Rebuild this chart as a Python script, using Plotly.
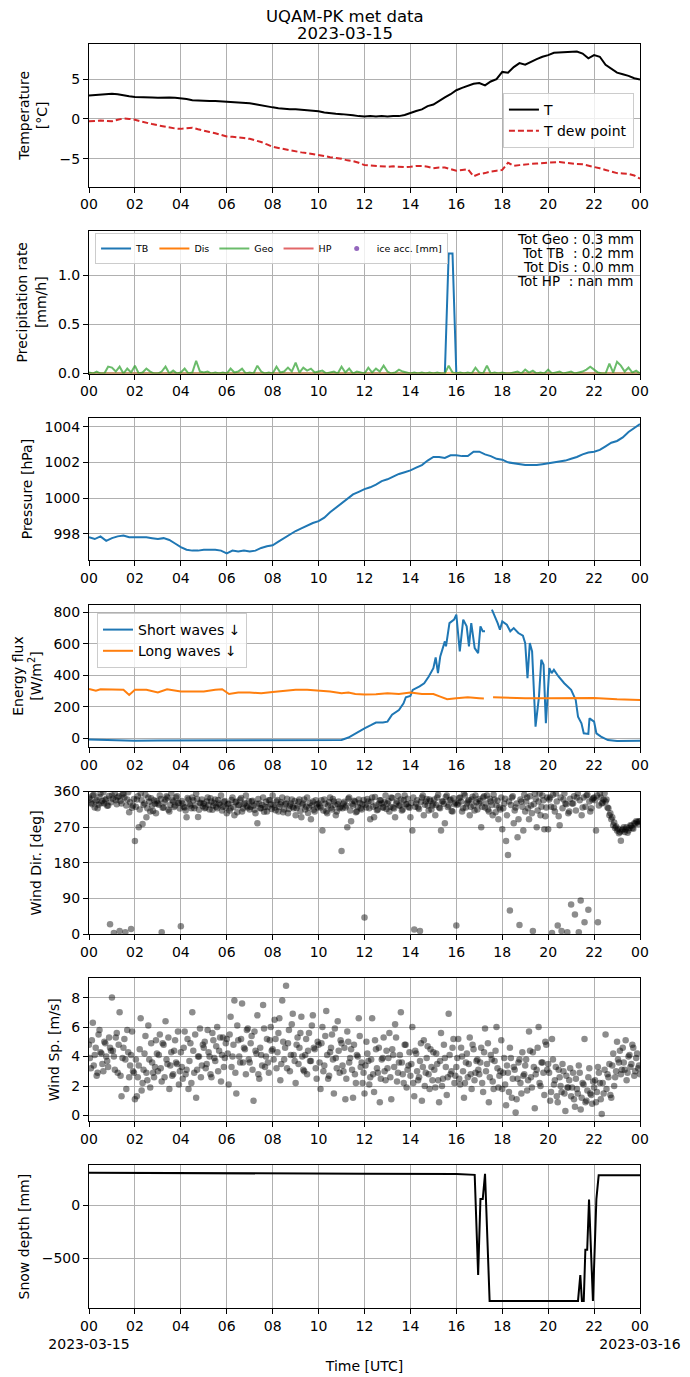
import numpy as np
import plotly.graph_objects as go
from plotly.subplots import make_subplots

# ---- data (hours UTC, 2023-03-15) ----
t15 = np.linspace(0, 24, 97)     # 15 min
t10 = np.linspace(0, 24, 145)    # 10 min
t5 = np.linspace(0, 24, 289)     # 5 min
t5b = np.linspace(2.5 / 60, 24 - 2.5 / 60, 288)   # 5 min, offset by 2.5 min

temp = [2.95, 3.0, 3.0, 3.05, 3.15, 3.1, 2.95, 2.85, 2.75, 2.75, 2.75, 2.7,
        2.65, 2.7, 2.7, 2.65, 2.6, 2.5, 2.35, 2.3, 2.3, 2.25, 2.25, 2.2,
        2.2, 2.1, 2.05, 2.0, 1.95, 1.85, 1.7, 1.55, 1.45, 1.35, 1.25, 1.2,
        1.2, 1.15, 1.1, 1.0, 0.95, 0.8, 0.7, 0.65, 0.6, 0.55, 0.45, 0.35,
        0.3, 0.35, 0.3, 0.35, 0.3, 0.35, 0.35, 0.5, 0.8, 1.0, 1.2, 1.6,
        1.8, 2.3, 2.7, 3.1, 3.6, 3.9, 4.2, 4.4, 4.5, 4.2, 4.7, 5.0,
        5.9, 5.8, 6.5, 7.0, 6.8, 7.2, 7.5, 7.8, 8.0, 8.3, 8.35, 8.4,
        8.4, 8.45, 8.2, 7.6, 8.0, 7.8, 6.8, 6.3, 5.8, 5.6, 5.4, 5.1, 4.95]
dew = [-0.3, -0.25, -0.2, -0.25, -0.3, -0.1, 0.05, 0.0, -0.1, -0.3, -0.5, -0.65,
       -0.8, -0.95, -1.1, -1.2, -1.25, -1.2, -1.1, -1.3, -1.5, -1.65, -1.8, -2.0,
       -2.2, -2.25, -2.3, -2.4, -2.5, -2.7, -2.9, -3.2, -3.5, -3.65, -3.8, -3.95,
       -4.1, -4.2, -4.3, -4.4, -4.5, -4.65, -4.8, -4.9, -5.0, -5.2, -5.3, -5.5,
       -5.8, -5.85, -5.9, -5.95, -6.0, -5.95, -6.0, -6.05, -6.0, -5.9, -5.9, -6.0,
       -6.2, -6.1, -6.1, -6.3, -6.5, -6.4, -6.3, -7.2, -6.9, -6.8, -6.6, -6.5,
       -6.4, -5.5, -5.9, -5.8, -5.7, -5.65, -5.6, -5.55, -5.5, -5.45, -5.4, -5.5,
       -5.6, -5.65, -5.7, -5.85, -6.0, -6.2, -6.4, -6.6, -6.8, -6.85, -6.9, -7.1, -7.5]

precip_geo = [0.01, 0.0, 0.02, 0.0, 0.0, 0.07, 0.06, 0.02, 0.07, 0.0, 0.05, 0.01,
              0.08, 0.0, 0.01, 0.05, 0.02, 0.0, 0.0, 0.02, 0.07, 0.0, 0.03, 0.0,
              0.01, 0.05, 0.0, 0.01, 0.13, 0.02, 0.01, 0.02, 0.0, 0.01, 0.0, 0.01,
              0.0, 0.05, 0.01, 0.02, 0.05, 0.0, 0.01, 0.0, 0.08, 0.02, 0.0, 0.01,
              0.0, 0.07, 0.01, 0.02, 0.06, 0.02, 0.11, 0.01, 0.06, 0.03, 0.05, 0.01,
              0.02, 0.03, 0.0, 0.01, 0.02, 0.0, 0.07, 0.01, 0.05, 0.0, 0.02, 0.01,
              0.0, 0.06, 0.01, 0.05, 0.02, 0.08, 0.02, 0.0, 0.01, 0.04, 0.02, 0.01,
              0.0, 0.01, 0.0, 0.01, 0.0, 0.01, 0.0, 0.01, 0.0, 0.0, 0.08, 0.01,
              0.0, 0.01, 0.0, 0.01, 0.0, 0.06, 0.01, 0.0, 0.08, 0.0, 0.01, 0.0,
              0.01, 0.0, 0.0, 0.01, 0.02, 0.0, 0.04, 0.01, 0.03, 0.0, 0.01, 0.0,
              0.04, 0.0, 0.01, 0.02, 0.0, 0.01, 0.02, 0.0, 0.01, 0.02, 0.04, 0.07,
              0.04, 0.01, 0.0, 0.0, 0.10, 0.01, 0.12, 0.08, 0.02, 0.06, 0.01, 0.03, 0.0]
precip_tb = [0.0] * 94 + [1.22, 1.22] + [0.0] * 49
precip_dis = [0.0] * 145
precip_hp = [None] * 145
ice_acc = [None]
precip_totals = ["Tot Geo : 0.3 mm", "Tot TB\u00a0\u00a0: 0.2 mm",
                 "Tot Dis : 0.0 mm", "Tot HP\u00a0\u00a0: nan mm"]

pres = [997.8, 997.7, 997.85, 997.6, 997.75, 997.85, 997.9, 997.8, 997.8, 997.8, 997.8, 997.75,
        997.7, 997.75, 997.65, 997.45, 997.25, 997.1, 997.05, 997.05, 997.1, 997.1, 997.1, 997.05,
        996.9, 997.05, 997.0, 997.05, 997.0, 997.05, 997.2, 997.3, 997.35, 997.55, 997.75, 997.95,
        998.15, 998.3, 998.45, 998.6, 998.7, 998.9, 999.2, 999.45, 999.7, 999.95, 1000.2, 1000.35,
        1000.5, 1000.6, 1000.75, 1000.95, 1001.05, 1001.2, 1001.35, 1001.45, 1001.55, 1001.7, 1001.85, 1002.1,
        1002.3, 1002.3, 1002.25, 1002.4, 1002.4, 1002.35, 1002.35, 1002.6, 1002.6, 1002.45, 1002.35, 1002.2,
        1002.15, 1002.0, 1001.95, 1001.9, 1001.85, 1001.85, 1001.85, 1001.9, 1001.95, 1002.0, 1002.05, 1002.1,
        1002.2, 1002.3, 1002.45, 1002.55, 1002.6, 1002.7, 1002.9, 1003.1, 1003.2, 1003.4, 1003.7, 1003.95, 1004.15]

sw_time = [0, 1, 2, 3, 4, 5, 6, 7, 8, 9, 10, 11, 11.3, 11.6, 12.0, 12.3, 12.5, 12.8, 13.0,
           13.2, 13.5, 13.7, 13.8, 14.0, 14.1, 14.4, 14.6, 14.8, 15.0, 15.1, 15.2, 15.3,
           15.4, 15.5, 15.55, 15.7, 15.9, 16.0, 16.15, 16.3, 16.45, 16.55, 16.65, 16.8,
           16.95, 17.05, 17.15, 17.25, 17.4, 17.55, 17.65, 17.8, 17.9, 18.0, 18.2, 18.35,
           18.5, 18.7, 18.9, 19.0, 19.1, 19.2, 19.3, 19.45, 19.6, 19.7, 19.8, 19.9, 20.05,
           20.15, 20.25, 20.45, 20.7, 21.0, 21.2, 21.3, 21.45, 21.55, 21.75, 21.8, 22.0,
           22.1, 22.3, 22.6, 23.0, 24.0]
sw_down = [-8, -12, -15, -14, -14, -13, -13, -13, -13, -13, -12, -10, 5, 32, 64, 85, 100, 100, 106,
           150, 180, 223, 261, 270, 308, 330, 350, 393, 446, 514, 414, 520,
           563, 616, 584, 732, 754, 786, 552, 754, 711, 584, 732, 573,
           541, 711, 680, 680, None, 817, 786, 732, 690, 743, 722, 680,
           700, 669, 652, 605, 382, 605, 552, 74, 265, 499, 467, 96, 446,
           414, 435, 393, 350, 308, 244, 138, 96, 32, 28, 127, 106,
           32, 11, -11, -17, -15]
lw_time = [0, 0.3, 0.5, 1.0, 1.5, 1.75, 2.0, 2.5, 3.0, 3.4, 3.8, 4.0, 4.5, 5.0, 5.5, 5.8,
           6.1, 6.5, 7.0, 7.5, 8.0, 8.5, 9.0, 9.5, 10.0, 10.5, 11.0, 11.3, 11.6, 12.0,
           12.5, 13.0, 13.5, 14.0, 14.5, 15.0, 15.3, 15.6, 16.0, 16.5, 17.0, 17.2, 17.4,
           17.6, 18.0, 19.0, 20.0, 21.0, 22.0, 23.0, 24.0]
lw_down = [314, 303, 312, 308, 308, 276, 308, 308, 291, 312, 301, 297, 297, 297, 308, 312,
           282, 291, 291, 287, 295, 303, 308, 308, 303, 297, 287, 291, 282, 278,
           280, 287, 282, 291, 282, 282, 265, 248, 255, 261, 255, 253, None,
           261, 259, 255, 255, 255, 257, 248, 244]

# wind direction on t5
wind_dir = [345, 332, 350, 320, 338, 327, 355, 336, 330, 342, 325, 25,
            350, 3, 338, 345, 8, 330, 355, 5, 340, 308, 13, 325,
            235, 340, 270, 355, 278, 330, 295, 345, 310, 325, 338, 305,
            330, 350, 5, 320, 340, 345, 310, 355, 335, 325, 348, 332,
            20, 330, 320, 295, 340, 325, 345, 318, 355, 296, 332, 340,
            330, 320, 345, 315, 335, 325, 340, 318, 330, 350, 322, 336,
            305, 330, 318, 345, 300, 335, 325, 340, 310, 328, 350, 320,
            315, 335, 325, 305, 280, 330, 318, 345, 322, 310, 338, 328,
            350, 320, 335, 310, 328, 345, 315, 330, 305, 325, 340, 318,
            300, 325, 340, 295, 330, 315, 345, 320, 290, 335, 310, 328,
            330, 320, 262, 340, 310, 325, 345, 315, 335, 300, 328, 318,
            210, 330, 320, 270, 345, 285, 325, 335, 310, 340, 318, 328,
            42, 320, 335, 290, 345, 295, 325, 315, 338, 330, 320, 350,
            330, 310, 345, 320, 295, 335, 325, 340, 315, 350, 328, 322,
            295, 262, 12, 330, 320, 8, 345, 300, 335, 325, 340, 315,
            330, 300, 345, 320, 262, 335, 280, 350, 325, 340, 310, 328,
            22, 330, 345, 310, 355, 320, 335, 300, 340, 325, 350, 315,
            330, 270, 345, 320, 350, 310, 335, 300, 340, 325, 290, 315,
            265, 330, 235, 200, 60, 345, 280, 320, 245, 23, 335, 262,
            310, 345, 290, 325, 8, 355, 270, 335, 300, 350, 265, 320,
            265, 345, 3, 320, 355, 22, 275, 8, 340, 330, 5, 310,
            75, 330, 50, 345, 5, 85, 320, 30, 350, 62, 310, 340,
            345, 262, 30, 355, 330, 340, 335, 320, 300, 290, 275, 268,
            262, 255, 236, 265, 258, 270, 262, 275, 268, 280, 285, 278,
            285]
# wind direction on t5b
wind_dir_b = [340, 328, 352, 335, 318, 346, 331, 358, 339, 324, 349, 333,
              342, 355, 328, 348, 337, 352, 345, 325, 358, 333, 319, 341,
              322, 348, 315, 338, 326, 352, 318, 334, 343, 311, 329, 336,
              327, 341, 319, 333, 348, 314, 326, 339, 321, 345, 331, 317,
              336, 322, 312, 344, 329, 318, 338, 325, 341, 314, 330, 323,
              318, 335, 327, 343, 314, 331, 322, 339, 326, 312, 334, 320,
              328, 312, 339, 321, 333, 308, 326, 344, 317, 331, 323, 336,
              322, 337, 314, 329, 341, 318, 326, 309, 334, 321, 338, 316,
              326, 313, 339, 321, 333, 308, 328, 342, 316, 330, 322, 336,
              318, 334, 311, 327, 340, 322, 306, 331, 325, 314, 338, 320,
              324, 338, 312, 329, 305, 333, 319, 341, 326, 310, 335, 322,
              318, 334, 325, 342, 312, 329, 337, 308, 322, 331, 315, 339,
              327, 341, 318, 334, 322, 346, 313, 329, 338, 320, 333, 316,
              336, 322, 344, 317, 330, 349, 325, 312, 338, 328, 342, 319,
              331, 345, 322, 338, 316, 334, 350, 327, 341, 312, 336, 325,
              340, 326, 352, 318, 335, 329, 346, 321, 338, 311, 343, 332,
              327, 344, 335, 318, 350, 330, 338, 322, 347, 312, 333, 341,
              336, 322, 348, 330, 315, 342, 326, 352, 308, 337, 320, 345,
              318, 342, 300, 335, 326, 348, 312, 330, 290, 340, 322, 352,
              335, 318, 348, 305, 328, 342, 312, 355, 322, 338, 298, 345,
              340, 322, 352, 310, 335, 298, 345, 318, 355, 328, 305, 342,
              330, 348, 312, 355, 338, 300, 345, 322, 352, 335, 318, 343,
              338, 350, 325, 345, 332, 356, 340, 318, 305, 295, 282, 272,
              266, 258, 262, 270, 264, 256, 268, 274, 266, 279, 283, 285]

# wind speed on t5
wind_sp = [4.8, 3.2, 6.3, 4.1, 2.7, 5.5, 4.3, 3.5, 5.0, 4.0, 3.3, 4.6,
           8.0, 4.0, 5.3, 2.9, 7.0, 1.3, 4.6, 3.8, 5.8, 2.6, 4.1, 3.0,
           1.1, 1.3, 3.4, 6.6, 2.2, 4.2, 2.9, 6.1, 1.9, 3.6, 2.6, 5.1,
           3.0, 5.5, 2.3, 4.8, 6.4, 3.5, 1.8, 4.3, 2.8, 5.1, 3.5, 2.1,
           4.3, 2.5, 5.7, 3.1, 1.8, 4.9, 7.0, 2.9, 1.2, 4.0, 5.9, 3.4,
           4.6, 3.2, 5.8, 4.0, 2.6, 5.1, 3.7, 6.0, 4.4, 2.3, 5.3, 3.9,
           5.2, 2.1, 6.7, 4.0, 7.8, 1.5, 5.1, 3.6, 7.6, 4.6, 2.8, 5.9,
           3.6, 5.4, 1.0, 4.4, 6.8, 2.5, 4.1, 7.5, 3.3, 5.2, 2.9, 6.0,
           4.5, 6.5, 3.2, 5.6, 2.4, 7.8, 3.8, 8.8, 4.9, 3.0, 6.2, 4.1,
           2.2, 5.3, 4.6, 6.7, 3.1, 4.1, 2.8, 5.6, 3.7, 6.8, 4.5, 2.5,
           4.8, 1.8, 6.0, 3.4, 7.1, 2.5, 4.3, 5.5, 1.5, 3.9, 6.4, 2.9,
           4.9, 3.0, 1.1, 5.7, 3.6, 4.5, 1.2, 2.8, 4.1, 6.6, 3.3, 2.2,
           1.5, 5.0, 3.7, 2.6, 6.6, 1.6, 4.5, 2.9, 0.9, 3.8, 5.3, 2.4,
           3.2, 5.6, 1.1, 4.1, 6.2, 2.3, 3.6, 7.0, 2.8, 4.8, 1.9, 3.4,
           2.7, 6.0, 1.3, 4.2, 2.4, 3.7, 1.0, 5.1, 2.9, 4.7, 1.8, 3.3,
           4.3, 1.9, 3.5, 0.9, 5.6, 2.5, 3.9, 1.4, 6.9, 2.8, 4.6, 2.2,
           3.3, 5.2, 2.1, 4.0, 1.2, 3.6, 2.6, 5.3, 1.8, 4.5, 2.9, 3.8,
           2.8, 4.6, 1.6, 5.9, 3.5, 0.9, 4.1, 2.3, 3.7, 6.0, 1.9, 3.0,
           1.8, 3.9, 0.7, 2.9, 4.6, 1.2, 3.3, 0.2, 2.5, 3.8, 1.5, 2.7,
           3.4, 1.7, 5.7, 2.6, 4.3, 0.5, 3.1, 6.0, 2.0, 3.6, 1.4, 4.8,
           3.5, 1.0, 5.2, 2.1, 3.3, 0.9, 2.6, 1.6, 3.0, 0.3, 1.9, 2.4,
           1.3, 2.9, 0.6, 1.8, 3.4, 0.4, 2.2, 5.2, 1.0, 2.6, 1.5, 0.8,
           1.9, 0.9, 3.3, 2.2, 0.1, 1.5, 5.5, 2.8, 3.5, 1.2, 4.2, 2.6,
           5.0, 3.6, 2.8, 4.6, 3.1, 2.4, 4.0, 3.3, 4.8, 2.7, 3.9, 3.2,
           2.8]
# wind speed on t5b
wind_sp_b = [3.9, 5.1, 3.4, 4.6, 2.9, 5.8, 4.2, 3.0, 4.9, 3.7, 5.3, 4.4,
             4.4, 3.1, 5.6, 4.8, 2.7, 3.9, 5.2, 1.8, 4.3, 3.4, 5.7, 2.9,
             3.8, 2.6, 4.5, 1.7, 3.1, 5.4, 2.4, 3.8, 4.9, 2.9, 3.3, 4.2,
             4.1, 3.2, 4.9, 2.6, 3.8, 5.3, 3.4, 2.7, 4.4, 3.6, 5.7, 3.0,
             3.3, 4.6, 2.8, 5.2, 3.7, 2.2, 4.4, 5.5, 3.1, 4.0, 2.6, 4.8,
             5.0, 3.5, 4.3, 2.8, 5.6, 3.9, 4.7, 3.0, 5.3, 4.1, 3.3, 4.9,
             4.2, 5.5, 3.3, 4.8, 2.9, 6.1, 4.0, 5.2, 3.6, 4.5, 5.8, 3.8,
             4.9, 3.1, 5.7, 4.2, 2.8, 4.6, 3.4, 5.9, 4.0, 3.6, 5.1, 4.4,
             3.8, 5.2, 4.3, 6.6, 3.5, 5.0, 4.6, 3.2, 5.8, 4.1, 6.9, 3.7,
             4.8, 3.5, 5.6, 4.0, 3.0, 5.2, 4.4, 3.7, 6.1, 4.6, 3.2, 5.0,
             3.6, 4.9, 3.0, 5.4, 4.1, 2.7, 4.6, 3.8, 5.9, 3.2, 4.4, 5.1,
             3.4, 4.6, 2.5, 5.0, 3.9, 3.1, 4.8, 2.2, 4.0, 5.4, 3.6, 2.9,
             3.4, 4.2, 2.1, 3.8, 2.8, 5.1, 3.2, 4.6, 2.5, 3.9, 3.0, 4.4,
             3.9, 2.6, 4.5, 3.3, 5.3, 2.9, 4.1, 3.6, 2.2, 4.8, 3.1, 4.3,
             3.5, 2.2, 4.4, 3.0, 2.6, 4.9, 3.3, 2.0, 3.9, 2.8, 4.5, 2.4,
             3.1, 4.2, 2.4, 3.7, 2.0, 4.8, 3.3, 2.6, 4.1, 3.0, 5.2, 2.7,
             3.9, 2.5, 4.6, 3.0, 2.2, 4.2, 3.5, 2.8, 4.8, 2.4, 3.7, 3.1,
             3.6, 2.2, 4.3, 3.0, 4.9, 2.6, 3.8, 1.8, 4.4, 3.2, 2.7, 5.1,
             2.9, 2.1, 3.4, 1.6, 3.9, 2.5, 3.1, 1.1, 3.6, 2.2, 4.3, 2.8,
             3.8, 2.4, 4.4, 1.9, 3.3, 2.8, 4.6, 2.2, 3.6, 2.9, 5.0, 3.1,
             2.9, 1.6, 3.8, 2.4, 1.3, 3.1, 2.0, 3.5, 1.5, 2.7, 1.9, 3.2,
             1.9, 1.1, 2.5, 1.5, 2.9, 1.2, 2.1, 0.9, 1.7, 3.2, 1.4, 2.3,
             2.4, 1.6, 2.9, 1.1, 2.2, 3.1, 1.8, 2.6, 1.4, 3.4, 2.0, 3.0,
             3.8, 4.4, 3.1, 3.6, 5.1, 2.9, 4.1, 3.5, 4.6, 3.0, 4.2, 3.4]

snow_time = [0, 4, 8, 12, 16, 16.7, 16.8, 16.95, 17.05, 17.15, 17.25, 17.45, 21.3,
             21.4, 21.47, 21.55, 21.62, 21.7, 21.78, 21.95, 22.1, 22.2, 24.0]
snow_depth = [310, 305, 302, 300, 298, 295, 290, -660, 60, 60, 300, -905, -905,
              -660, -905, -905, -420, -420, 55, -905, 60, 285, 285]

hour_ticks = list(range(0, 25, 2))
hour_text = ["%02d" % (h % 24) for h in hour_ticks]
title_lines = ["UQAM-PK met data", "2023-03-15"]

# ---- figure ----
fig = make_subplots(rows=7, cols=1, vertical_spacing=0.035)

BLUE, ORANGE, GREEN, RED, PURPLE = "#1f77b4", "#ff7f0e", "#2ca02c", "#d62728", "#9467bd"

fig.add_trace(go.Scatter(x=t15, y=temp, mode="lines", name="T",
                         line=dict(color="black", width=2), legend="legend"), row=1, col=1)
fig.add_trace(go.Scatter(x=t15, y=dew, mode="lines", name="T dew point",
                         line=dict(color=RED, width=2, dash="6px,3px"), legend="legend"), row=1, col=1)

fig.add_trace(go.Scatter(x=t10, y=precip_tb, mode="lines", name="TB",
                         line=dict(color=BLUE, width=2), legend="legend2"), row=2, col=1)
fig.add_trace(go.Scatter(x=t10, y=precip_dis, mode="lines", name="Dis",
                         line=dict(color=ORANGE, width=2), legend="legend2"), row=2, col=1)
fig.add_trace(go.Scatter(x=t10, y=precip_geo, mode="lines", name="Geo", opacity=0.7,
                         line=dict(color=GREEN, width=2), legend="legend2"), row=2, col=1)
fig.add_trace(go.Scatter(x=t10, y=precip_hp, mode="lines", name="HP", opacity=0.7,
                         line=dict(color=RED, width=2), legend="legend2"), row=2, col=1)
fig.add_trace(go.Scatter(x=[0], y=ice_acc, mode="markers", name="ice acc. [mm]",
                         marker=dict(color=PURPLE, size=5), legend="legend2"), row=2, col=1)

fig.add_trace(go.Scatter(x=t15, y=pres, mode="lines", showlegend=False,
                         line=dict(color=BLUE, width=2)), row=3, col=1)

fig.add_trace(go.Scatter(x=sw_time, y=sw_down, mode="lines", name="Short waves \u2193",
                         line=dict(color=BLUE, width=2), legend="legend3"), row=4, col=1)
fig.add_trace(go.Scatter(x=lw_time, y=lw_down, mode="lines", name="Long waves \u2193",
                         line=dict(color=ORANGE, width=2), legend="legend3"), row=4, col=1)

dots = dict(color="rgba(0,0,0,0.45)", size=6.5, line=dict(width=0))
t_wind = np.concatenate([t5, t5b])
fig.add_trace(go.Scatter(x=t_wind, y=wind_dir + wind_dir_b, mode="markers", showlegend=False,
                         marker=dots), row=5, col=1)
fig.add_trace(go.Scatter(x=t_wind, y=wind_sp + wind_sp_b, mode="markers", showlegend=False,
                         marker=dots), row=6, col=1)

fig.add_trace(go.Scatter(x=snow_time, y=snow_depth, mode="lines", showlegend=False,
                         line=dict(color="black", width=2)), row=7, col=1)

axis_style = dict(showline=True, linecolor="black", linewidth=1, mirror=True,
                  ticks="outside", ticklen=5, tickcolor="black", automargin=False,
                  showgrid=True, gridcolor="#b0b0b0", gridwidth=1, zeroline=False,
                  tickfont=dict(size=14, color="black"))
fig.update_xaxes(range=[0, 24], tickvals=hour_ticks, ticktext=hour_text, tickangle=0, **axis_style)
fig.update_yaxes(title_font=dict(size=14, color="black"), title_standoff=8, **axis_style)

bottom_text = list(hour_text)
bottom_text[0] = "00<br>2023-03-15"
bottom_text[-1] = "00<br>2023-03-16"
fig.update_xaxes(ticktext=bottom_text, title_text="Time [UTC]", title_standoff=10,
                 title_font=dict(size=14, color="black"), row=7, col=1)

fig.update_yaxes(title_text="Temperature<br>[°C]", range=[-8.5, 9.4], tickvals=[-5, 0, 5],
                 ticktext=["\u22125", "0", "5"], row=1, col=1)
fig.update_yaxes(title_text="Precipitation rate<br>[mm/h]", range=[0, 1.45],
                 tickvals=[0, 0.5, 1.0], ticktext=["0.0", "0.5", "1.0"], row=2, col=1)
fig.update_yaxes(title_text="Pressure [hPa]", range=[996.5, 1004.5],
                 tickvals=[998, 1000, 1002, 1004], row=3, col=1)
fig.update_yaxes(title_text="Energy flux<br>[W/m<sup>2</sup>]", range=[-57, 849],
                 tickvals=[0, 200, 400, 600, 800], row=4, col=1)
fig.update_yaxes(title_text="Wind Dir. [deg]", range=[0, 360],
                 tickvals=[0, 90, 180, 270, 360], row=5, col=1)
fig.update_yaxes(title_text="Wind Sp. [m/s]", range=[-0.38, 9.3],
                 tickvals=[0, 2, 4, 6, 8], row=6, col=1)
fig.update_yaxes(title_text="Snow depth [mm]", range=[-972, 380],
                 tickvals=[-500, 0], ticktext=["\u2212500", "0"], row=7, col=1)


def py(px):
    # page pixel row -> paper y (plot area spans rows 44..1308)
    return 1 - (px - 44) / 1264.0


box = dict(bgcolor="rgba(255,255,255,0.8)", bordercolor="#cccccc", borderwidth=1)
fig.update_layout(
    legend=dict(x=0.989, xanchor="right", y=py(93), yanchor="top",
                font=dict(size=14, color="black"), **box),
    legend2=dict(x=0.011, xanchor="left", y=py(233), yanchor="top", orientation="h",
                 itemwidth=30, font=dict(size=9.5, color="black"), **box),
    legend3=dict(x=0.0145, xanchor="left", y=py(613), yanchor="top",
                 font=dict(size=14, color="black"), **box),
)

for i, line in enumerate(precip_totals):
    fig.add_annotation(text=line, xref="x2 domain", yref="paper", x=0.993, y=py(239 + 14 * i),
                       xanchor="right", yanchor="middle", showarrow=False,
                       font=dict(size=13.5, color="black"))

for i, line in enumerate(title_lines):
    fig.add_annotation(text=line, xref="paper", yref="paper", x=(345 - 89) / 551.0,
                       y=py(16 + 17 * i), xanchor="center", yanchor="middle",
                       showarrow=False, font=dict(size=16.5, color="black"))

# page body has an 8px margin, so the figure is 8px smaller and shifted
fig.update_layout(
    width=682, height=1369,
    margin=dict(l=81, r=50, t=36, b=69),
    paper_bgcolor="white", plot_bgcolor="white",
    font=dict(family="DejaVu Sans", color="black"),
)

fig.write_html("out.html")
